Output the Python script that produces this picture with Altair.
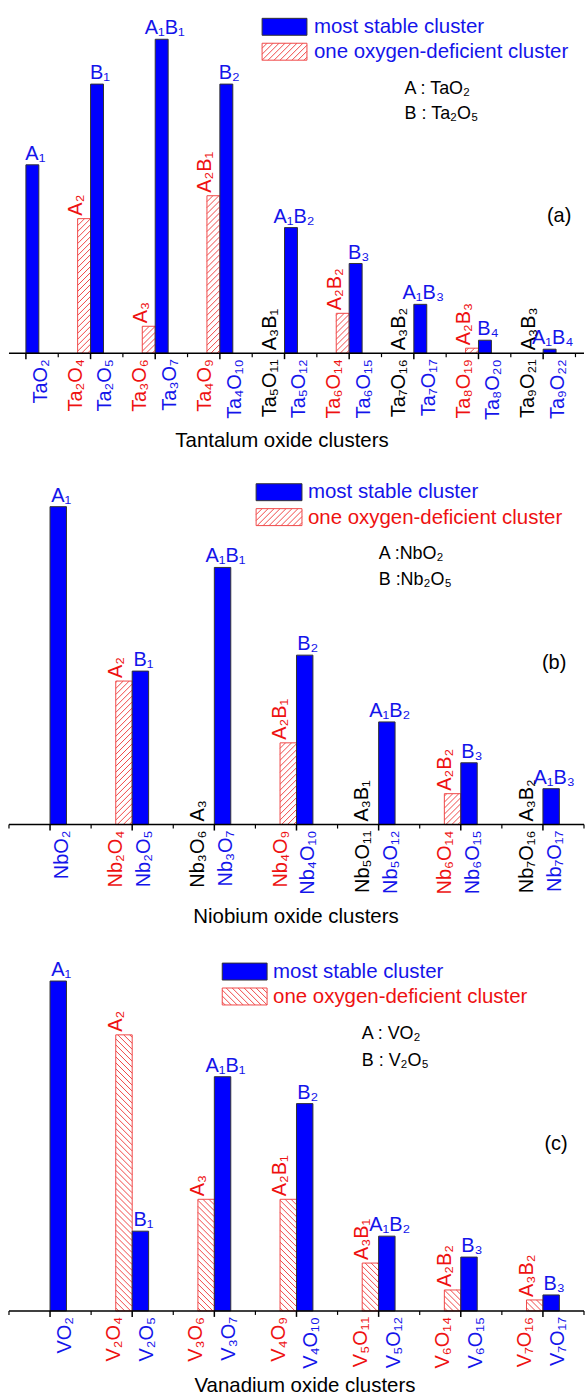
import altair as alt
import pandas as pd

SUB = str.maketrans("0123456789", "₀₁₂₃₄₅₆₇₈₉")
def s(t):
    return t.translate(SUB)

FONT = "Liberation Sans"
BLUE = "#0000FF"
TBLUE = "#1414EA"
TRED = "#EE1111"
HRED = "#F04848"
BLACK = "#000000"

# (a) Tantalum oxide clusters
ta_stable = ["TaO2", "Ta2O5", "Ta3O7", "Ta4O10", "Ta5O12", "Ta6O15", "Ta7O17", "Ta8O20", "Ta9O22"]
ta_stable_val = [189, 270, 315, 270, 126, 90, 49, 13, 4]
ta_stable_tag = ["A1", "B1", "A1B1", "B2", "A1B2", "B3", "A1B3", "B4", "A1B4"]
ta_def = ["", "Ta2O4", "Ta3O6", "Ta4O9", "Ta5O11", "Ta6O14", "Ta7O16", "Ta8O19", "Ta9O21"]
ta_def_val = [0, 135, 27, 158, 0, 40, 0, 5, 0]
ta_def_tag = ["", "A2", "A3", "A2B1", "A3B1", "A2B2", "A3B2", "A2B3", "A3B3"]
ta_def_col = ["", "red", "red", "red", "black", "red", "black", "red", "black"]

# (b) Niobium oxide clusters
nb_stable = ["NbO2", "Nb2O5", "Nb3O7", "Nb4O10", "Nb5O12", "Nb6O15", "Nb7O17"]
nb_stable_val = [319, 154, 258, 170, 103, 62, 36]
nb_stable_tag = ["A1", "B1", "A1B1", "B2", "A1B2", "B3", "A1B3"]
nb_def = ["", "Nb2O4", "Nb3O6", "Nb4O9", "Nb5O11", "Nb6O14", "Nb7O16"]
nb_def_val = [0, 144, 0, 82, 0, 31, 0]
nb_def_tag = ["", "A2", "A3", "A2B1", "A3B1", "A2B2", "A3B2"]
nb_def_col = ["", "red", "black", "red", "black", "red", "black"]

# (c) Vanadium oxide clusters
v_stable = ["VO2", "V2O5", "V3O7", "V4O10", "V5O12", "V6O15", "V7O17"]
v_stable_val = [331, 80, 235, 208, 75, 54, 16]
v_stable_tag = ["A1", "B1", "A1B1", "B2", "A1B2", "B3", "B3"]
v_def = ["", "V2O4", "V3O6", "V4O9", "V5O11", "V6O14", "V7O16"]
v_def_val = [0, 277, 112, 112, 48, 21, 11]
v_def_tag = ["", "A2", "A3", "A2B1", "A3B1", "A2B2", "A3B2"]
v_def_col = ["", "red", "red", "red", "red", "red", "red"]

COLMAP = {"red": TRED, "black": BLACK}

W = 577
BW = 0.2


def hatch_segments(x0, x1, y0, h, ppx, ppy, step, direction):
    wp = (x1 - x0) * ppx
    hp = h * ppy
    segs = []
    if hp <= 0:
        return segs
    if direction > 0:
        c = -wp + step / 2
        while c < hp:
            t1 = max(0.0, -c)
            t2 = min(wp, hp - c)
            if t2 > t1 + 0.3:
                segs.append((x0 + t1 / ppx, y0 + (c + t1) / ppy, x0 + t2 / ppx, y0 + (c + t2) / ppy))
            c += step
    else:
        c = step / 2
        while c < hp + wp:
            t1 = max(0.0, c - hp)
            t2 = min(wp, c)
            if t2 > t1 + 0.3:
                segs.append((x0 + t1 / ppx, y0 + (c - t1) / ppy, x0 + t2 / ppx, y0 + (c - t2) / ppy))
            c += step
    return segs


def make_panel(key, stable, sval, stag, deff, dval, dtag, dcol, xdom, H, hdir,
               st_dy, df_dy, leg, leg_cols, ab_texts, ab_pos, plabel, plabel_pos,
               title, title_pos, minor_ticks, leg_size):
    n = len(stable)
    idx = list(range(n))
    ppx = W / (xdom[1] - xdom[0])
    ppy = 1.0
    xs = alt.Scale(domain=xdom, nice=False, zero=False)
    ys = alt.Scale(domain=[0, H], nice=False, zero=False)
    X = lambda f: alt.X(f, type="quantitative", scale=xs, axis=None)
    Y = lambda f: alt.Y(f, type="quantitative", scale=ys, axis=None)

    st = pd.DataFrame({
        "i": idx, "x0": [float(i) for i in idx], "x1": [i + BW for i in idx],
        "c": [i + BW / 2 for i in idx], "v": sval,
        "tag": [s(t) for t in stag], "name": [s(t) for t in stable], "panel": key,
    })
    dfr = pd.DataFrame({
        "i": idx, "x0": [i - BW for i in idx], "x1": [float(i) for i in idx],
        "c": [i - BW / 2 for i in idx], "v": dval,
        "tag": [s(t) for t in dtag], "name": [s(t) for t in deff],
        "col": [COLMAP.get(c, BLACK) for c in dcol], "panel": key,
    })
    dfr = dfr[dfr["name"] != ""].reset_index(drop=True)

    segs = []
    for _, r in dfr.iterrows():
        if r["v"] > 0:
            segs += hatch_segments(float(r["x0"]), float(r["x1"]), 0.0, float(r["v"]), ppx, ppy, 6, hdir)
    hs = pd.DataFrame(segs, columns=["hx0", "hy0", "hx1", "hy1"])
    hs["panel"] = key

    (lx0, lx1, ly1, ly2, tx, ty1, ty2) = leg
    lx0d = xdom[0] + lx0 / ppx
    lx1d = xdom[0] + lx1 / ppx
    lsegs = hatch_segments(lx0d, lx1d, H - (ly2 + 17), 17, ppx, ppy, 6, hdir)
    lhs = pd.DataFrame(lsegs, columns=["hx0", "hy0", "hx1", "hy1"])
    lhs["panel"] = key + "L"

    one = pd.DataFrame({"k": [key]})
    major = pd.DataFrame({"t": [float(i) for i in idx], "panel": key})
    minor = pd.DataFrame({"t": minor_ticks, "panel": key})

    layers = []
    # one-oxygen-deficient (hatched) bars
    layers.append(alt.Chart(dfr).transform_filter("datum.v > 0").mark_rect(
        fill="white", strokeWidth=1).encode(
        x=X("x0"), x2="x1", y=Y("v"), y2=alt.datum(0), stroke=alt.value(HRED)))
    layers.append(alt.Chart(hs).mark_rule().encode(
        x=X("hx0"), x2="hx1", y=Y("hy0"), y2="hy1",
        color=alt.value(HRED), strokeWidth=alt.value(1)))
    # most stable bars
    layers.append(alt.Chart(st).mark_rect(fill=BLUE, stroke="#333333", strokeWidth=1).encode(
        x=X("x0"), x2="x1", y=Y("v"), y2=alt.datum(0)))
    # axis line and ticks
    layers.append(alt.Chart(one).mark_rule(color=BLACK, strokeWidth=1.5).encode(
        x=alt.value(0), x2=alt.value(W), y=alt.value(H)))
    layers.append(alt.Chart(major).mark_rule(color=BLACK, strokeWidth=1.5).encode(
        x=X("t"), y=alt.value(H), y2=alt.value(H + 6)))
    layers.append(alt.Chart(minor).mark_rule(color=BLACK, strokeWidth=1.2).encode(
        x=X("t"), y=alt.value(H), y2=alt.value(H + 4)))
    # rotated category labels
    layers.append(alt.Chart(st).mark_text(
        angle=270, align="right", baseline="alphabetic", dx=-6, dy=st_dy,
        fontSize=20, font=FONT, color=TBLUE).encode(
        x=X("i"), y=alt.value(H), text="name:N"))
    layers.append(alt.Chart(dfr).mark_text(
        angle=270, align="right", baseline="alphabetic", dx=-6, dy=df_dy,
        fontSize=20, font=FONT).encode(
        x=X("i"), y=alt.value(H), text="name:N",
        color=alt.Color("col:N", scale=None)))
    # bar-top tags
    layers.append(alt.Chart(st).mark_text(
        align="center", baseline="alphabetic", dx=3, dy=-5,
        fontSize=20, font=FONT, color=TBLUE).encode(
        x=X("c"), y=Y("v"), text="tag:N"))
    layers.append(alt.Chart(dfr).mark_text(
        angle=270, align="left", baseline="alphabetic", dx=3, dy=-2,
        fontSize=20, font=FONT).encode(
        x=X("c"), y=Y("v"), text="tag:N",
        color=alt.Color("col:N", scale=None)))
    # legend
    layers.append(alt.Chart(one).mark_rect(fill=BLUE, stroke="#333333", strokeWidth=1).encode(
        x=alt.value(lx0), x2=alt.value(lx1), y=alt.value(ly1), y2=alt.value(ly1 + 17)))
    layers.append(alt.Chart(one).mark_rect(fill="white", stroke=HRED, strokeWidth=1).encode(
        x=alt.value(lx0), x2=alt.value(lx1), y=alt.value(ly2), y2=alt.value(ly2 + 17)))
    layers.append(alt.Chart(lhs).mark_rule().encode(
        x=X("hx0"), x2="hx1", y=Y("hy0"), y2="hy1",
        color=alt.value(HRED), strokeWidth=alt.value(1)))
    layers.append(alt.Chart(one).mark_text(
        align="left", baseline="middle", fontSize=leg_size, font=FONT, color=leg_cols[0],
        text="most stable cluster").encode(x=alt.value(tx), y=alt.value(ty1)))
    layers.append(alt.Chart(one).mark_text(
        align="left", baseline="middle", fontSize=leg_size, font=FONT, color=leg_cols[1],
        text="one oxygen-deficient cluster").encode(x=alt.value(tx), y=alt.value(ty2)))
    # A / B definitions
    for txt, (ax, ay) in zip(ab_texts, ab_pos):
        layers.append(alt.Chart(one).mark_text(
            align="left", baseline="middle", fontSize=18, font=FONT, color=BLACK,
            text=s(txt)).encode(x=alt.value(ax), y=alt.value(ay)))
    # panel label
    layers.append(alt.Chart(one).mark_text(
        align="center", baseline="middle", fontSize=20, font=FONT, color=BLACK,
        text=plabel).encode(x=alt.value(plabel_pos[0]), y=alt.value(plabel_pos[1])))
    # x title
    layers.append(alt.Chart(one).mark_text(
        align="center", baseline="middle", fontSize=20.5, font=FONT, color=BLACK,
        text=title).encode(x=alt.value(title_pos[0]), y=alt.value(title_pos[1])))

    return alt.layer(*layers).properties(width=W, height=H)


pa = make_panel("a", ta_stable, ta_stable_val, ta_stable_tag, ta_def, ta_def_val, ta_def_tag, ta_def_col,
                [-0.262, 8.632], 352, 1, 21, -9,
                (254, 299, 16, 41, 306, 24.5, 49.5), (TBLUE, TBLUE),
                ["A : TaO2", "B : Ta2O5"], [(397, 86.5), (397, 112)],
                "(a)", (552, 214), "Tantalum oxide clusters", (274, 440),
                [0.5 + k for k in range(9)], 20.5)

pb = make_panel("b", nb_stable, nb_stable_val, nb_stable_tag, nb_def, nb_def_val, nb_def_tag, nb_def_col,
                [-0.5, 6.5], 373, 1, 18, -10,
                (248, 294, 31, 56, 300, 39.5, 65), (TBLUE, TRED),
                ["A :NbO2", "B :Nb2O5"], [(371, 101.5), (371, 128)],
                "(b)", (547, 211), "Niobium oxide clusters", (288, 466),
                [-0.5 + k for k in range(8)], 20.5)

pc = make_panel("c", v_stable, v_stable_val, v_stable_tag, v_def, v_def_val, v_def_tag, v_def_col,
                [-0.5, 6.5], 388, -1, 21, -12,
                (214, 259, 39, 64, 265, 48, 73), (TBLUE, TRED),
                ["A : VO2", "B : V2O5"], [(354, 110.5), (354, 137)],
                "(c)", (549, 221), "Vanadium oxide clusters", (297, 463),
                [-0.5 + k for k in range(8)], 20.5)

chart = alt.vconcat(pa, pb, pc, spacing=100, bounds="flush").properties(
    padding={"left": 8, "top": 0, "right": 0, "bottom": 0}
).configure_view(stroke=None)

chart.save("out.html", embed_options={"renderer": "svg", "actions": False})
